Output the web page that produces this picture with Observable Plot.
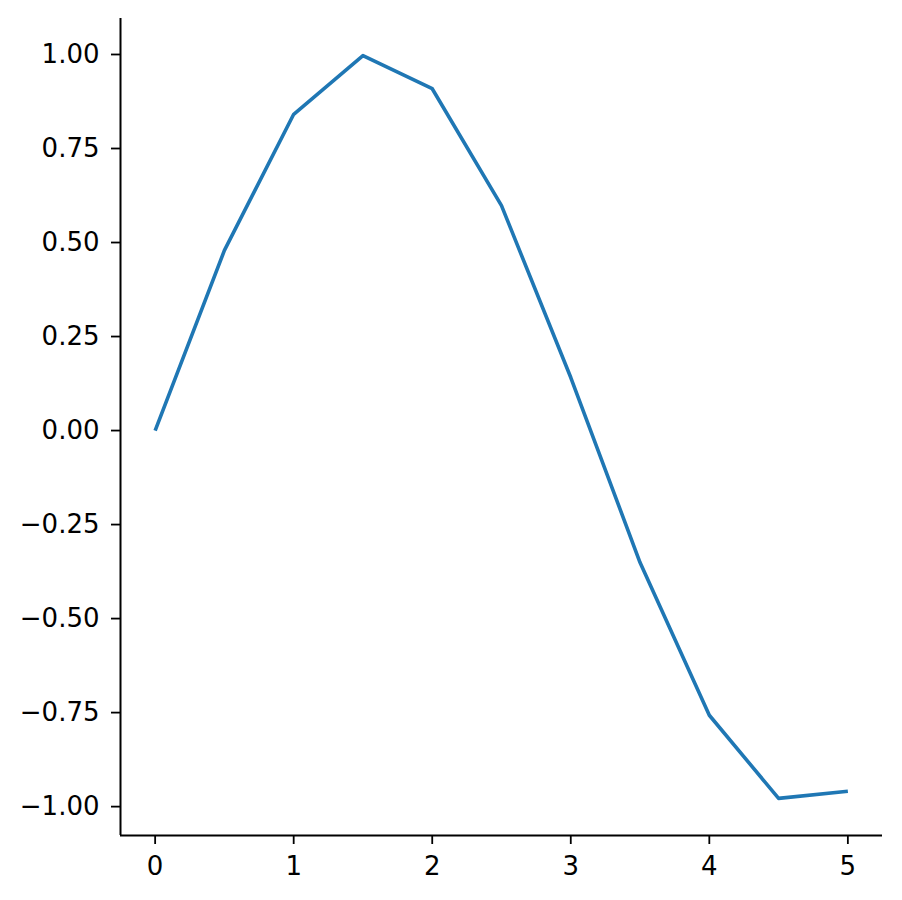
<!DOCTYPE html>
<html>
<head>
<meta charset="utf-8">
<script src="https://cdn.jsdelivr.net/npm/d3@7"></script>
<script src="https://cdn.jsdelivr.net/npm/@observablehq/plot@0.6"></script>
<style>
  html, body { margin: 0; padding: 0; background: #fff; }
  #chart svg { display: block; }
</style>
</head>
<body>
<div id="chart"></div>
<script>
const xs = [0, 0.5, 1, 1.5, 2, 2.5, 3, 3.5, 4, 4.5, 5];
const ys = [0.000, 0.479, 0.841, 0.997, 0.909, 0.598, 0.141, -0.351, -0.757, -0.978, -0.959];
const xTicks = [0, 1, 2, 3, 4, 5];
const yTicks = [-1, -0.75, -0.5, -0.25, 0, 0.25, 0.5, 0.75, 1];

const xDomain = [-0.25, 5.25];
const yDomain = [-1.0768, 1.0957];

const data = xs.map((x, i) => ({x, y: ys[i]}));

const axisStyle = {tickSize: 9, tickPadding: 12, label: null, stroke: "#000", strokeWidth: 1.8, fill: "#000",
  fontSize: 26, fontFamily: "DejaVu Sans"};

const chart = Plot.plot({
  width: 902,
  height: 900,
  marginLeft: 120,
  marginRight: 20,
  marginTop: 18,
  marginBottom: 65,
  style: {fontFamily: "DejaVu Sans", fontSize: "26px", color: "#000", background: "#fff"},
  x: {domain: xDomain},
  y: {domain: yDomain},
  marks: [
    Plot.axisX({ticks: xTicks, tickFormat: d3.format("d"), ...axisStyle}),
    Plot.axisY({ticks: yTicks, tickFormat: d3.format(".2f"), ...axisStyle}),
    Plot.ruleX([xDomain[0]], {stroke: "#000", strokeWidth: 2}),
    Plot.ruleY([yDomain[0]], {stroke: "#000", strokeWidth: 2}),
    Plot.line(data, {x: "x", y: "y", stroke: "#1f77b4", strokeWidth: 3.6, strokeLinecap: "butt", strokeLinejoin: "round"})
  ]
});
document.getElementById("chart").appendChild(chart);
</script>
</body>
</html>
